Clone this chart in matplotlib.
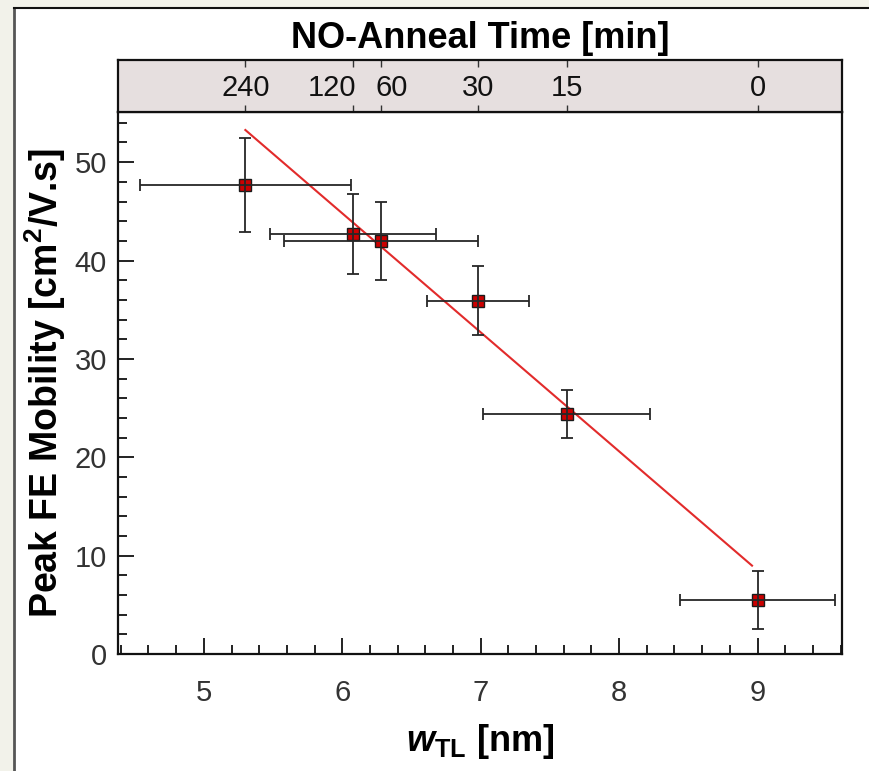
import matplotlib
matplotlib.use("Agg")
import matplotlib.pyplot as plt
from matplotlib.patches import Rectangle
from matplotlib.ticker import MultipleLocator
from matplotlib.transforms import offset_copy

plt.rcParams['font.family'] = ['Liberation Sans', 'DejaVu Sans']
plt.rcParams['mathtext.fontset'] = 'custom'
plt.rcParams['mathtext.rm'] = 'Liberation Sans:bold'
plt.rcParams['mathtext.it'] = 'Liberation Sans:bold:italic'
plt.rcParams['mathtext.bf'] = 'Liberation Sans:bold'

# ---- data ----
w_tl = [5.30, 6.08, 6.28, 6.98, 7.62, 9.00]
mobility = [47.7, 42.7, 42.0, 35.9, 24.4, 5.5]
mobility_err = [4.8, 4.1, 4.0, 3.5, 2.45, 2.95]
w_tl_err = [0.76, 0.60, 0.70, 0.37, 0.60, 0.56]
anneal_time_labels = ['240', '120', '60', '30', '15', '0']
fit_slope = -12.1
fit_intercept = 117.4
fit_x_range = [5.30, 8.96]

W, H = 869, 771
fig = plt.figure(figsize=(W / 100, H / 100), dpi=100)
fig.patch.set_facecolor('#f2f2ea')
fig.add_artist(Rectangle((14.5 / W, 0), 1, 1 - 7.5 / H, transform=fig.transFigure,
                         facecolor='white', edgecolor='none', zorder=-10))
fig.add_artist(plt.Line2D([14.5 / W, 14.5 / W], [0, 1 - 7.5 / H], transform=fig.transFigure,
                          color='#555555', lw=2, zorder=-5))
fig.add_artist(plt.Line2D([14.5 / W, 1], [1 - 7.5 / H, 1 - 7.5 / H], transform=fig.transFigure,
                          color='#111111', lw=1.5, zorder=-5))

left, right = 118 / W, 842 / W
bottom, top = 1 - 654 / H, 1 - 112 / H
band_top = 1 - 60 / H

ax = fig.add_axes([left, bottom, right - left, top - bottom])
band = fig.add_axes([left, top, right - left, band_top - top])

xlim = (4.38, 9.61)
ax.set_xlim(*xlim)
ax.set_ylim(0, 55.1)

# fit line
fx = fit_x_range
fy = [fit_slope * v + fit_intercept for v in fx]
ax.plot(fx, fy, color='#e22b2b', lw=1.5, zorder=2)

# markers then error bars on top
ax.plot(w_tl, mobility, linestyle='none', marker='s', markersize=9.2,
        markerfacecolor='#cc0000', markeredgecolor='#1a1a1a', markeredgewidth=1.0, zorder=3)
ax.errorbar(w_tl, mobility, yerr=mobility_err, xerr=w_tl_err, fmt='none',
            ecolor='#262626', elinewidth=1.3, capsize=4.5, capthick=1.3, zorder=4)

ax.xaxis.set_major_locator(MultipleLocator(1))
ax.xaxis.set_minor_locator(MultipleLocator(0.2))
ax.yaxis.set_major_locator(MultipleLocator(10))
ax.yaxis.set_minor_locator(MultipleLocator(2))
ax.tick_params(which='both', direction='in', top=False, right=False, labelsize=21, width=1.3,
               colors='#111111', labelcolor='#333333')
ax.tick_params(which='major', length=11.5)
ax.tick_params(axis='x', which='major', pad=18)
ax.tick_params(axis='y', which='major', pad=8)
ax.tick_params(which='minor', length=6.5)
for s in ax.spines.values():
    s.set_linewidth(1.6)
    s.set_color('#111111')

ax.set_xlabel(r'$w_{\mathrm{TL}}$ [nm]', fontsize=26, fontweight='bold', labelpad=11)
ax.set_ylabel(r'Peak FE Mobility [cm$^{\mathbf{2}}$/V.s]', fontsize=27, fontweight='bold', labelpad=5)

# top band with anneal times
band.set_facecolor('#e6dfdf')
band.set_xlim(*xlim)
band.set_ylim(0, 1)
band.set_yticks([])
band.set_xticks(w_tl)
band.set_xticklabels([])
band.tick_params(axis='x', which='both', direction='in', top=True, bottom=True,
                 labelbottom=False, labeltop=False, length=5, width=1.0, colors='#333333')
band.xaxis.set_minor_locator(plt.NullLocator())
for s in band.spines.values():
    s.set_linewidth(1.6)
    s.set_color('#111111')
aligns = ['center', 'right', 'left', 'center', 'center', 'center']
shifts = [0, 3, -6, 0, 0, 0]
for xv, lab, ha, dx in zip(w_tl, anneal_time_labels, aligns, shifts):
    tr = offset_copy(band.transData, fig=fig, x=dx, y=0, units='dots')
    band.text(xv, 0.47, lab, ha=ha, va='center', fontsize=21, color='#111111', transform=tr)
band.set_title('NO-Anneal Time [min]', fontsize=26, fontweight='bold', pad=9)

fig.savefig('out.png', dpi=100, facecolor=fig.get_facecolor())
